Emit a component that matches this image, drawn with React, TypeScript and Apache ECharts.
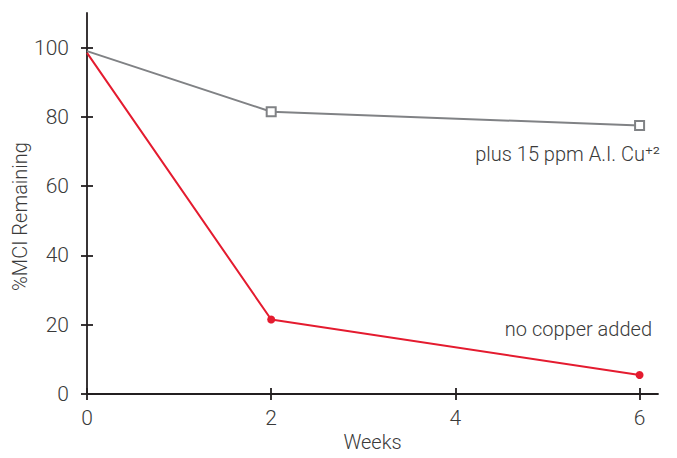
import React, { useEffect, useRef } from "react";
import * as echarts from "echarts";

const weeks = [0, 2, 6];
const copperValues = [99, 81.5, 77.5];
const noCopperValues = [98.5, 21.5, 5.5];
const xTicks = [0, 2, 4, 6];
const yTicks = [0, 20, 40, 60, 80, 100];
const copperLabel = "plus 15 ppm A.I. Cu⁺²";
const noCopperLabel = "no copper added";

const FONT = "Roboto";
const TEXT = "#3a3a3a";
const AXIS = "#231f20";
const GRAY = "#808285";
const RED = "#e41b2f";

export default function App() {
  const ref = useRef<HTMLDivElement>(null);
  useEffect(() => {
    document.body.style.margin = "0";
    const chart = echarts.init(ref.current!, null, { renderer: "svg" });
    const mk = (vals: number[]) =>
      weeks.map((w, i) => (i === 0 ? { value: [w, vals[i]], symbol: "none" } : { value: [w, vals[i]] }));
    const xBase = { type: "value", min: 0, max: 6.2 };
    const yBase = { type: "value", min: 0, max: 110 };
    chart.setOption({
      animation: false,
      grid: { left: 87, right: 19, top: 13, bottom: 64, containLabel: false, outerBoundsMode: "none" },
      xAxis: [
        {
          ...xBase,
          name: "Weeks",
          nameLocation: "middle",
          nameGap: 38,
          nameMoveOverlap: false,
          nameTextStyle: { color: TEXT, fontSize: 20, fontFamily: FONT, fontWeight: 300 },
          axisLine: { show: true, lineStyle: { color: AXIS, width: 1.8 } },
          axisTick: { show: true, inside: false, length: 6, customValues: xTicks, lineStyle: { color: AXIS, width: 1.8 } },
          axisLabel: { customValues: xTicks, margin: 13, color: TEXT, fontSize: 21, fontFamily: FONT, fontWeight: 300 },
          splitLine: { show: false },
        },
        {
          ...xBase,
          position: "bottom",
          axisLine: { show: false },
          axisTick: { show: true, inside: true, length: 6, customValues: xTicks, lineStyle: { color: AXIS, width: 1.8 } },
          axisLabel: { show: false },
          splitLine: { show: false },
        },
      ],
      yAxis: [
        {
          ...yBase,
          name: "%MCI Remaining",
          nameLocation: "middle",
          nameGap: 57,
          nameMoveOverlap: false,
          nameTextStyle: { color: TEXT, fontSize: 20, fontFamily: FONT, fontWeight: 300, padding: [0, 26, 0, 0] },
          axisLine: { show: true, lineStyle: { color: AXIS, width: 1.8 } },
          axisTick: { show: true, inside: false, length: 6, customValues: yTicks, lineStyle: { color: AXIS, width: 1.8 } },
          axisLabel: { customValues: yTicks, margin: 18, color: TEXT, fontSize: 21, fontFamily: FONT, fontWeight: 300 },
          splitLine: { show: false },
        },
        {
          ...yBase,
          position: "left",
          axisLine: { show: false },
          axisTick: { show: true, inside: true, length: 6, customValues: yTicks, lineStyle: { color: AXIS, width: 1.8 } },
          axisLabel: { show: false },
          splitLine: { show: false },
        },
      ],
      series: [
        {
          type: "line",
          data: mk(copperValues),
          symbol: "rect",
          symbolSize: 9,
          showAllSymbol: true,
          lineStyle: { color: GRAY, width: 2 },
          itemStyle: { color: "#ffffff", borderColor: GRAY, borderWidth: 2 },
          z: 3,
        },
        {
          type: "line",
          data: mk(noCopperValues),
          symbol: "circle",
          symbolSize: 8,
          showAllSymbol: true,
          lineStyle: { color: RED, width: 2 },
          itemStyle: { color: RED, borderWidth: 0 },
          z: 4,
        },
      ],
      graphic: [
        {
          type: "text",
          right: 17,
          top: 144,
          style: { text: copperLabel, fill: TEXT, fontSize: 20, fontFamily: FONT, fontWeight: 300 },
        },
        {
          type: "text",
          right: 25,
          top: 319,
          style: { text: noCopperLabel, fill: TEXT, fontSize: 20, fontFamily: FONT, fontWeight: 300 },
        },
      ],
    });
    return () => chart.dispose();
  }, []);
  return <div ref={ref} style={{ width: 677, height: 458 }} />;
}
